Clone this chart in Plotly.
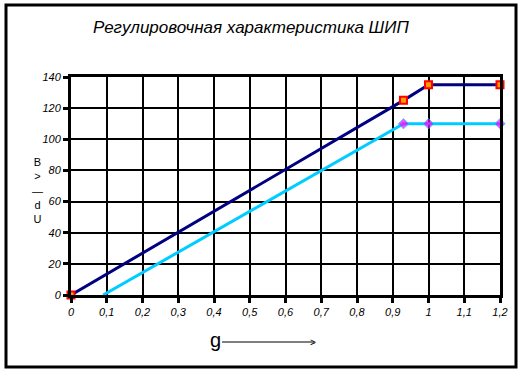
import plotly.graph_objects as go

# Data
g_upper = [0, 0.93, 1.0, 1.2]
u_upper = [0, 125, 135, 135]
g_lower = [0.09, 0.93, 1.0, 1.2]
u_lower = [0, 110, 110, 110]
lower_marker_sizes = [0, 8, 8, 8]

x_ticks = [0, 0.1, 0.2, 0.3, 0.4, 0.5, 0.6, 0.7, 0.8, 0.9, 1.0, 1.1, 1.2]
x_tick_labels = ["0", "0,1", "0,2", "0,3", "0,4", "0,5", "0,6", "0,7", "0,8", "0,9", "1", "1,1", "1,2"]
y_ticks = [0, 20, 40, 60, 80, 100, 120, 140]

title_text = "Регулировочная характеристика ШИП"
y_title_chars = ["B", ">", "—", "d", "U"]

W, H = 523, 374
L, R, T, B = 71, 23, 77, 79
pw, ph = W - L - R, H - T - B

def px(x):
    return (x - L) / pw

def py(y):
    return (H - B - y) / ph

fig = go.Figure()
fig.add_trace(go.Scatter(
    x=g_upper, y=u_upper, mode="lines+markers",
    line=dict(color="#000080", width=3),
    marker=dict(symbol="square", size=7, color="#FF9900", line=dict(color="#FF0000", width=2)),
    cliponaxis=False, showlegend=False))
fig.add_trace(go.Scatter(
    x=g_lower, y=u_lower, mode="lines+markers",
    line=dict(color="#00CCFF", width=3),
    marker=dict(symbol="diamond", size=lower_marker_sizes, color="#FF00FF"),
    cliponaxis=False, showlegend=False))

tick_font = dict(family="Liberation Sans, Arial", size=11, color="black", style="italic")

fig.update_xaxes(
    range=[0, 1.2], tickvals=x_ticks, ticktext=x_tick_labels,
    showgrid=True, gridcolor="black", gridwidth=2,
    showline=True, linecolor="black", linewidth=3, mirror=True,
    ticks="outside", ticklen=5, tickwidth=3, tickcolor="black",
    tickfont=tick_font, zeroline=False)
fig.update_yaxes(
    range=[0, 140], tickvals=y_ticks,
    showgrid=True, gridcolor="black", gridwidth=2,
    showline=True, linecolor="black", linewidth=3, mirror=True,
    ticks="outside", ticklen=5, tickwidth=3, tickcolor="black",
    tickfont=tick_font, zeroline=False)

annotations = [
    dict(text=title_text, x=px(251), y=py(27), xref="paper", yref="paper",
         showarrow=False, xanchor="center", yanchor="middle",
         font=dict(family="Liberation Sans, Arial", size=17, color="black", style="italic")),
    dict(text="g", x=px(215), y=py(340), xref="paper", yref="paper",
         showarrow=False, xanchor="center", yanchor="middle",
         font=dict(family="Liberation Sans, Arial", size=20, color="black")),
    dict(text=">", x=px(313), y=py(342), xref="paper", yref="paper",
         showarrow=False, xanchor="center", yanchor="middle",
         font=dict(family="Liberation Sans, Arial", size=10, color="black")),
    dict(text="<br>".join(y_title_chars), x=px(37), y=py(190), xref="paper", yref="paper",
         showarrow=False, xanchor="center", yanchor="middle", align="center",
         font=dict(family="Liberation Sans, Arial", size=11, color="black")),
]

shapes = [
    dict(type="rect", xref="paper", yref="paper", x0=px(6), x1=px(516), y0=py(5), y1=py(367),
         line=dict(color="black", width=3), fillcolor="rgba(0,0,0,0)", layer="below"),
    dict(type="line", xref="paper", yref="paper", x0=px(222), x1=px(314), y0=py(342), y1=py(342),
         line=dict(color="black", width=1)),
]

fig.update_layout(
    width=W, height=H, autosize=False,
    margin=dict(l=L, r=R, t=T, b=B),
    paper_bgcolor="white", plot_bgcolor="white",
    annotations=annotations, shapes=shapes)

fig.write_html("out.html", config={"displayModeBar": False},
               post_script="document.body.style.margin='0px';")
